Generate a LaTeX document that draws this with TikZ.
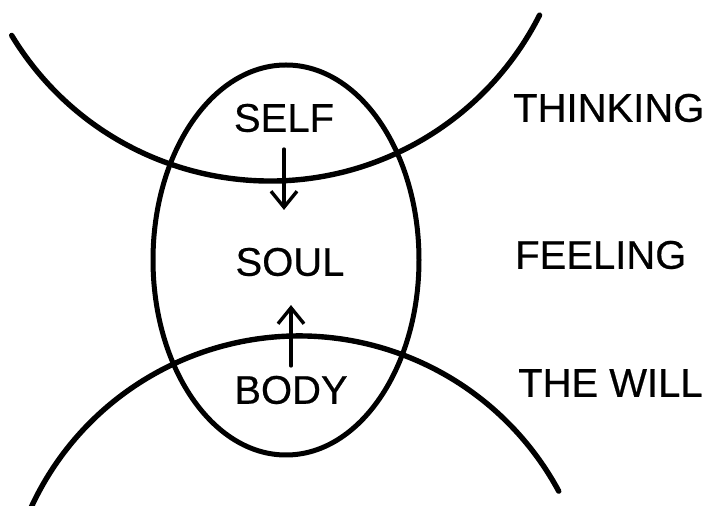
\documentclass[tikz,border=0pt]{standalone}
\usepackage{fontspec}
\newfontfamily\diagfont{Liberation Sans}[FakeBold=0.5]
\usepackage{tikz}
\usetikzlibrary{
  positioning,
  arrows.meta,
  calc
}
\tikzset{
  >=Latex,
  flowarrow/.style={-{Straight Barb[length=16pt,width=26pt,line width=3.4pt]},line width=3.4pt,line cap=round},
  sphere/.style={line width=5.4pt,line cap=round},
  soulring/.style={line width=5pt},
  word/.style={inner sep=0pt,font=\diagfont\fontsize{40}{48}\selectfont},
  side/.style={word,anchor=west}
}

\begin{document}
\begin{tikzpicture}[x=1pt,y=1pt]
    \useasboundingbox (0,0) rectangle (710,506);

    \draw[sphere] (270,627) ++(211.2:302) arc[start angle=211.2,end angle=333.2,radius=302];
    \draw[sphere] (299,-125) ++(156:295) arc[start angle=156,end angle=28.3,radius=295];
    \draw[soulring] (286,246) ellipse[x radius=133,y radius=195];

    \node[word] (self) at (284,388) {SELF};
    \node[word] (soul) at (290,244) {SOUL};
    \node[word] (body) at (291,116) {BODY};

    \node[side] (thinking) at (513,398) {THINKING};
    \node[side] (feeling) at (515,251) {FEELING};
    \node[side] (will) at (518,123) {THE WILL};

    \draw[flowarrow,shorten <=16.7pt,shorten >=37.7pt] (self.south) -- (self.south |- soul.north);
    \draw[flowarrow,shorten <=9.7pt,shorten >=28.7pt] (body.north) -- (body.north |- soul.south);
\end{tikzpicture}
\end{document}
